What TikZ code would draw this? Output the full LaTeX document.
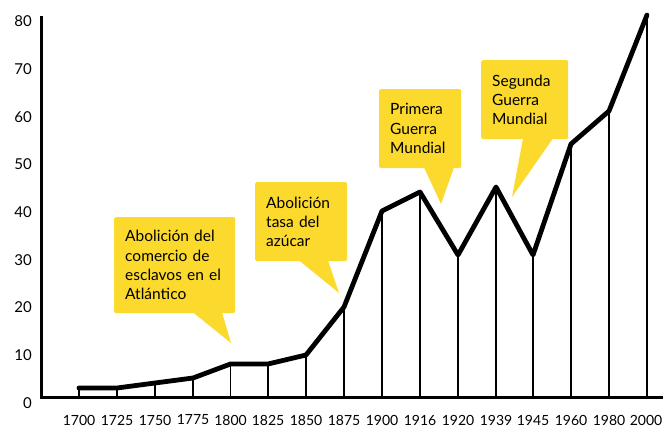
\documentclass[tikz,border=0pt]{standalone}
\usepackage{fontspec}
\setmainfont{Lato}
\usepackage{tikz}
\definecolor{notefill}{HTML}{FCDA2D}

\begin{document}
\begin{tikzpicture}[x=1pt,y=-1pt,
	axis/.style={line width=3pt},
	bar/.style={line width=1.8pt},
	trend/.style={line width=4.8pt,line cap=round,line join=round},
	xlab/.style={font=\fontsize{14}{16}\selectfont,inner sep=0pt},
	ylab/.style={font=\fontsize{15}{18}\selectfont,inner sep=0pt,anchor=east},
	callout/.style={fill=notefill,rounded corners=1.5pt,anchor=north west,align=left,
		inner xsep=11pt,inner ysep=0pt,font=\fontsize{15.5}{19.3}\selectfont}]
			\useasboundingbox (0,0) rectangle (663,428);
			% axes
			\coordinate (o) at (41,397);
			\coordinate (ytop) at (41,16);
			\coordinate (xend) at (663,397);
			\draw [axis] (ytop) -- (o) -- (xend);
			\node [ylab] (v80) at (32,21) {80};
			\node [ylab] (v70) at (32,69) {70};
			\node [ylab] (v60) at (32,117) {60};
			\node [ylab] (v50) at (32,164) {50};
			\node [ylab] (v40) at (32,212) {40};
			\node [ylab] (v30) at (32,260) {30};
			\node [ylab] (v20) at (32,307) {20};
			\node [ylab] (v10) at (32,355) {10};
			\node [ylab] (v0) at (32,403) {0};
			% data points
			\coordinate (p1700) at (79,388);
			\coordinate (p1725) at (117,388);
			\coordinate (p1750) at (155,383);
			\coordinate (p1775) at (193,378);
			\coordinate (p1800) at (230.5,364);
			\coordinate (p1825) at (268,364);
			\coordinate (p1850) at (306,355);
			\coordinate (p1875) at (344,307);
			\coordinate (p1900) at (382,211);
			\coordinate (p1916) at (420,192);
			\coordinate (p1920) at (458,255);
			\coordinate (p1939) at (496,187);
			\coordinate (p1945) at (533,255);
			\coordinate (p1960) at (571,144);
			\coordinate (p1980) at (609,111);
			\coordinate (p2000) at (647,15);
			% bars and year labels
			\draw [bar] (p1700) -- (p1700 |- o);
			\draw [bar] (p1725) -- (p1725 |- o);
			\draw [bar] (p1750) -- (p1750 |- o);
			\draw [bar] (p1775) -- (p1775 |- o);
			\draw [bar] (p1800) -- (p1800 |- o);
			\draw [bar] (p1825) -- (p1825 |- o);
			\draw [bar] (p1850) -- (p1850 |- o);
			\draw [bar] (p1875) -- (p1875 |- o);
			\draw [bar] (p1900) -- (p1900 |- o);
			\draw [bar] (p1916) -- (p1916 |- o);
			\draw [bar] (p1920) -- (p1920 |- o);
			\draw [bar] (p1939) -- (p1939 |- o);
			\draw [bar] (p1945) -- (p1945 |- o);
			\draw [bar] (p1960) -- (p1960 |- o);
			\draw [bar] (p1980) -- (p1980 |- o);
			\draw [bar] (p2000) -- (p2000 |- o);
			\node [xlab] (y1700) at (79,420) {1700};
			\node [xlab] (y1725) at (117,420) {1725};
			\node [xlab] (y1750) at (155,420) {1750};
			\node [xlab] (y1775) at (193,420) {1775};
			\node [xlab] (y1800) at (230.5,420) {1800};
			\node [xlab] (y1825) at (268,420) {1825};
			\node [xlab] (y1850) at (306,420) {1850};
			\node [xlab] (y1875) at (344,420) {1875};
			\node [xlab] (y1900) at (382,420) {1900};
			\node [xlab] (y1916) at (420,420) {1916};
			\node [xlab] (y1920) at (458,420) {1920};
			\node [xlab] (y1939) at (496,420) {1939};
			\node [xlab] (y1945) at (533,420) {1945};
			\node [xlab] (y1960) at (571,420) {1960};
			\node [xlab] (y1980) at (609,420) {1980};
			\node [xlab] (y2000) at (646,420) {2000};
			\draw [trend] (p1700) -- (p1725) -- (p1750) -- (p1775) -- (p1800) -- (p1825) -- (p1850) -- (p1875) -- (p1900) -- (p1916) -- (p1920) -- (p1939) -- (p1945) -- (p1960) -- (p1980) -- (p2000);
			% callouts
			\node [callout,text width=99pt,minimum height=96pt] (trata) at (114,217) {Abolición del\\comercio de\\esclavos en el\\Atlántico};
			\coordinate (trataTip) at (231,343);
			\fill [notefill] ([xshift=79pt,yshift=1pt]trata.south west) -- (trataTip) -- ([xshift=108pt,yshift=1pt]trata.south west) -- cycle;
			\node [callout,text width=70pt,minimum height=79pt] (azucar) at (255,182) {Abolición\\tasa del\\azúcar};
			\coordinate (azucarTip) at (339,293);
			\fill [notefill] ([xshift=44pt,yshift=1pt]azucar.south west) -- (azucarTip) -- ([xshift=73pt,yshift=1pt]azucar.south west) -- cycle;
			\node [callout,text width=60pt,minimum height=79pt] (gm1) at (379,89) {Primera\\Guerra\\Mundial};
			\coordinate (gm1Tip) at (441,204);
			\fill [notefill] ([xshift=45pt,yshift=1pt]gm1.south west) -- (gm1Tip) -- ([xshift=75pt,yshift=1pt]gm1.south west) -- cycle;
			\node [callout,text width=65pt,minimum height=79pt] (gm2) at (481,60) {Segunda\\Guerra\\Mundial};
			\coordinate (gm2Tip) at (512,197);
			\fill [notefill] ([xshift=42pt,yshift=1pt]gm2.south west) -- (gm2Tip) -- ([xshift=72pt,yshift=1pt]gm2.south west) -- cycle;
\end{tikzpicture}
\end{document}
